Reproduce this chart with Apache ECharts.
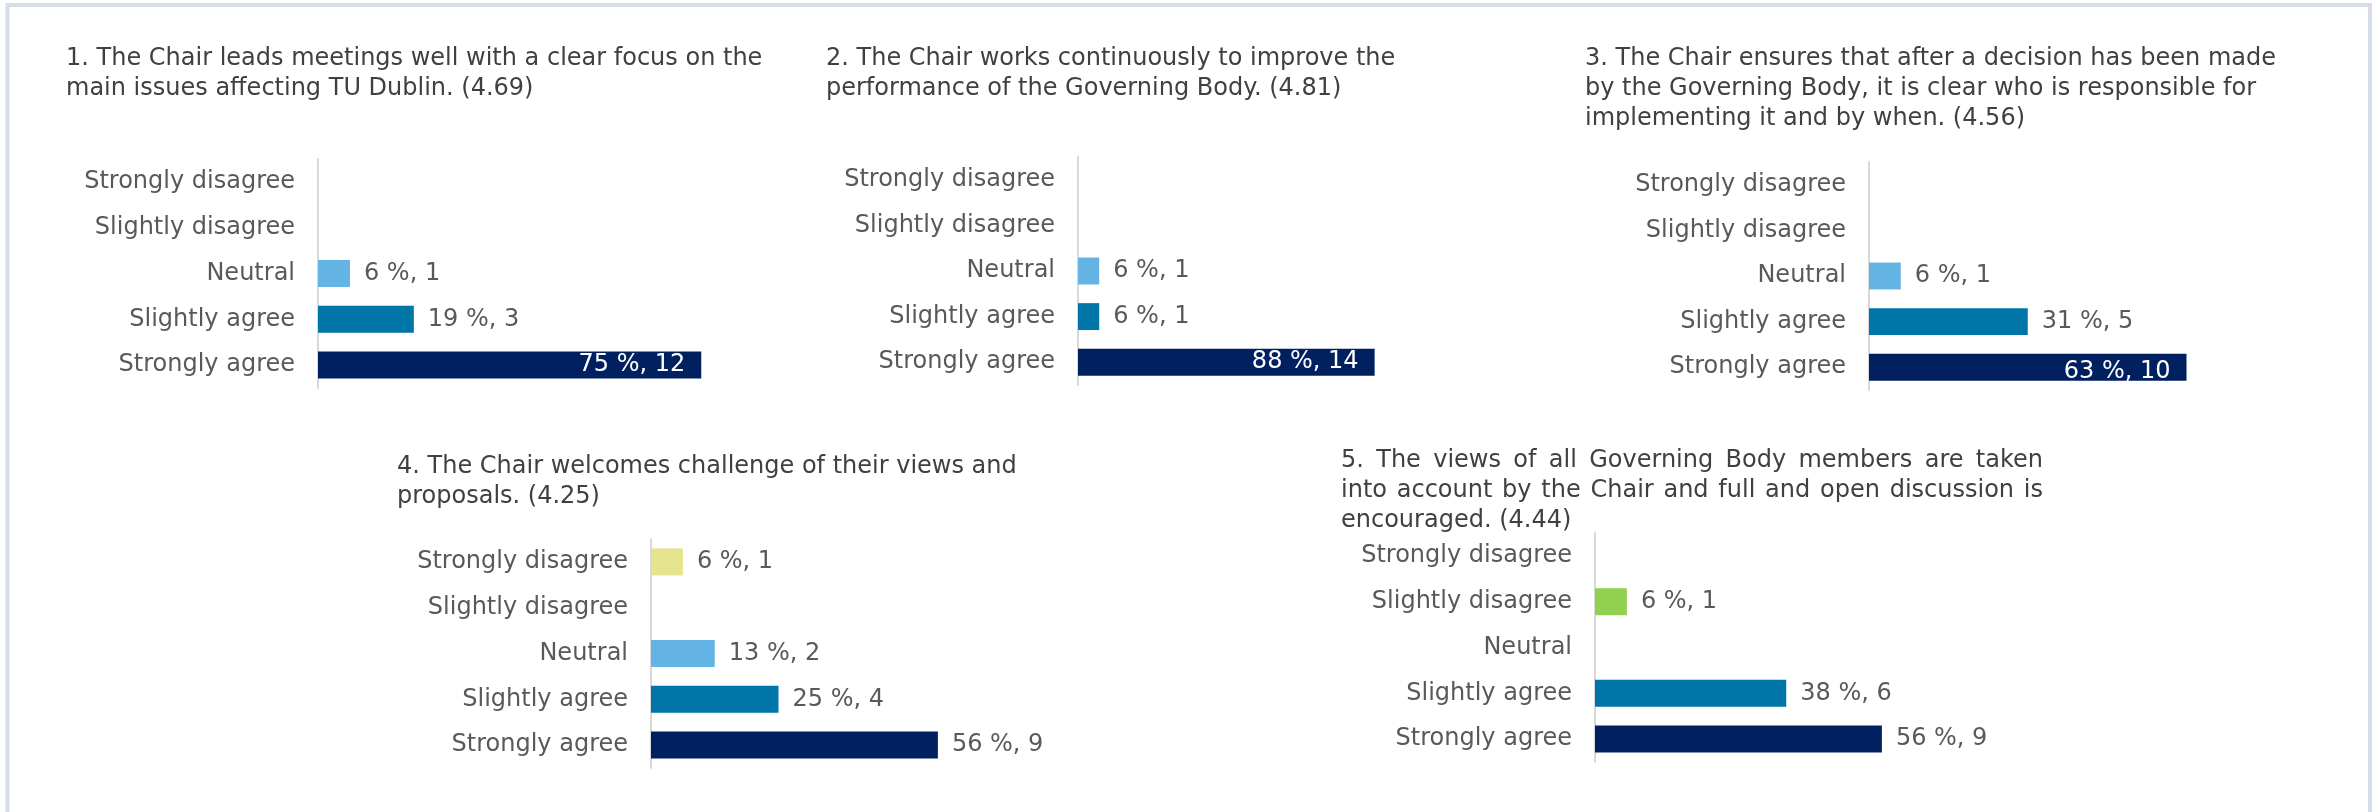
<!DOCTYPE html>
<html><head><meta charset="utf-8">
<script src="https://cdn.jsdelivr.net/npm/echarts@6/dist/echarts.min.js"></script>
<style>html,body{margin:0;padding:0;background:#fff}#c{width:2379px;height:812px}</style>
</head><body><div id="c"></div>
<script>
// ---- data ----
const categories = ['Strongly disagree', 'Slightly disagree', 'Neutral', 'Slightly agree', 'Strongly agree'];
const respondents = 16;

const title1 = ['1. The Chair leads meetings well with a clear focus on the', 'main issues affecting TU Dublin. (4.69)'];
const counts1 = [0, 0, 1, 3, 12];
const pct1 = [0, 0, 6, 19, 75];

const title2 = ['2. The Chair works continuously to improve the', 'performance of the Governing Body. (4.81)'];
const counts2 = [0, 0, 1, 1, 14];
const pct2 = [0, 0, 6, 6, 88];

const title3 = ['3. The Chair ensures that after a decision has been made', 'by the Governing Body, it is clear who is responsible for', 'implementing it and by when. (4.56)'];
const counts3 = [0, 0, 1, 5, 10];
const pct3 = [0, 0, 6, 31, 63];

const title4 = ['4. The Chair welcomes challenge of their views and', 'proposals. (4.25)'];
const counts4 = [1, 0, 2, 4, 9];
const pct4 = [6, 0, 13, 25, 56];

const title5 = ['5. The views of all Governing Body members are taken', 'into account by the Chair and full and open discussion is', 'encouraged. (4.44)'];
const counts5 = [0, 1, 0, 6, 9];
const pct5 = [0, 6, 0, 38, 56];

// ---- styles / layout ----
const FONT = '"DejaVu Sans", Verdana, sans-serif';
const FS = 24;
const LH = 30;
const catColors = ['#e4e48c', '#92d050', '#63b4e4', '#0075a8', '#002060'];
const textColor = '#595959';
const titleColor = '#404040';

const panels = [
  { title: title1, counts: counts1, pct: pct1, grid: { left: 318, top: 159, width: 511, height: 229 }, tx: 66, ty: 66 },
  { title: title2, counts: counts2, pct: pct2, grid: { left: 1078, top: 157, width: 339, height: 228 }, tx: 826, ty: 66 },
  { title: title3, counts: counts3, pct: pct3, grid: { left: 1869, top: 162, width: 508, height: 228 }, tx: 1585, ty: 66 },
  { title: title4, counts: counts4, pct: pct4, grid: { left: 651, top: 539, width: 510, height: 229 }, tx: 397, ty: 474 },
  { title: title5, counts: counts5, pct: pct5, grid: { left: 1595, top: 533, width: 510, height: 229 }, tx: 1341, ty: 468, justify: 702 }
];

const ctx = document.createElement('canvas').getContext('2d');
ctx.font = FS + 'px ' + FONT;

function textEl(str, x, baseline) {
  return {
    type: 'text', x: x, y: baseline - 0.3 * FS, silent: true,
    style: { text: str, fill: titleColor, font: FS + 'px ' + FONT, textAlign: 'left', textVerticalAlign: 'middle', verticalAlign: 'middle' }
  };
}
function titleElems(lines, x, y0, justifyWidth) {
  const els = [];
  lines.forEach((line, i) => {
    const y = y0 + i * LH;
    if (justifyWidth && i < lines.length - 1) {
      const words = line.split(' ');
      const widths = words.map(w => ctx.measureText(w).width);
      const wsum = widths.reduce((s, w) => s + w, 0);
      const gap = (justifyWidth - wsum) / (words.length - 1);
      if (gap > ctx.measureText(' ').width * 0.8) {
        let cx = x;
        words.forEach((w, k) => { els.push(textEl(w, cx, y)); cx += widths[k] + gap; });
        return;
      }
    }
    els.push(textEl(line, x, y));
  });
  return els;
}

const graphics = [
  { type: 'polyline', silent: true, shape: { points: [[7.5, 812], [7.5, 5], [2370, 5], [2370, 812]] },
    style: { stroke: '#d6dde8', lineWidth: 4, fill: null } }
];
const grids = [], xAxes = [], yAxes = [], series = [];

panels.forEach((p, i) => {
  titleElems(p.title, p.tx, p.ty, p.justify).forEach(e => graphics.push(e));
  grids.push(Object.assign({ containLabel: false }, p.grid));
  xAxes.push({ type: 'value', gridIndex: i, min: 0, max: respondents, show: false });
  yAxes.push({
    type: 'category', gridIndex: i, data: categories, inverse: true,
    axisLine: { show: true, lineStyle: { color: '#d9d9d9', width: 2 } },
    axisTick: { show: false }, splitLine: { show: false },
    axisLabel: { color: textColor, fontFamily: FONT, fontSize: FS, margin: 23 }
  });
  series.push({
    type: 'bar', xAxisIndex: i, yAxisIndex: i, barCategoryGap: '41%', silent: true,
    data: p.counts.map((c, k) => {
      const inside = c / respondents >= 0.6;
      return {
        value: c,
        itemStyle: { color: catColors[k] },
        label: {
          show: c > 0,
          position: inside ? 'insideRight' : 'right',
          distance: inside ? 16 : 14,
          color: inside ? '#ffffff' : textColor,
          offset: (inside && i === 2) ? [0, 5] : [0, 0],
          fontFamily: FONT, fontSize: FS,
          formatter: p.pct[k] + ' %, ' + c
        }
      };
    })
  });
});

const chart = echarts.init(document.getElementById('c'), null, { renderer: 'canvas' });
chart.setOption({
  animation: false,
  backgroundColor: '#ffffff',
  grid: grids, xAxis: xAxes, yAxis: yAxes, series: series,
  graphic: graphics
});
</script>
</body></html>
